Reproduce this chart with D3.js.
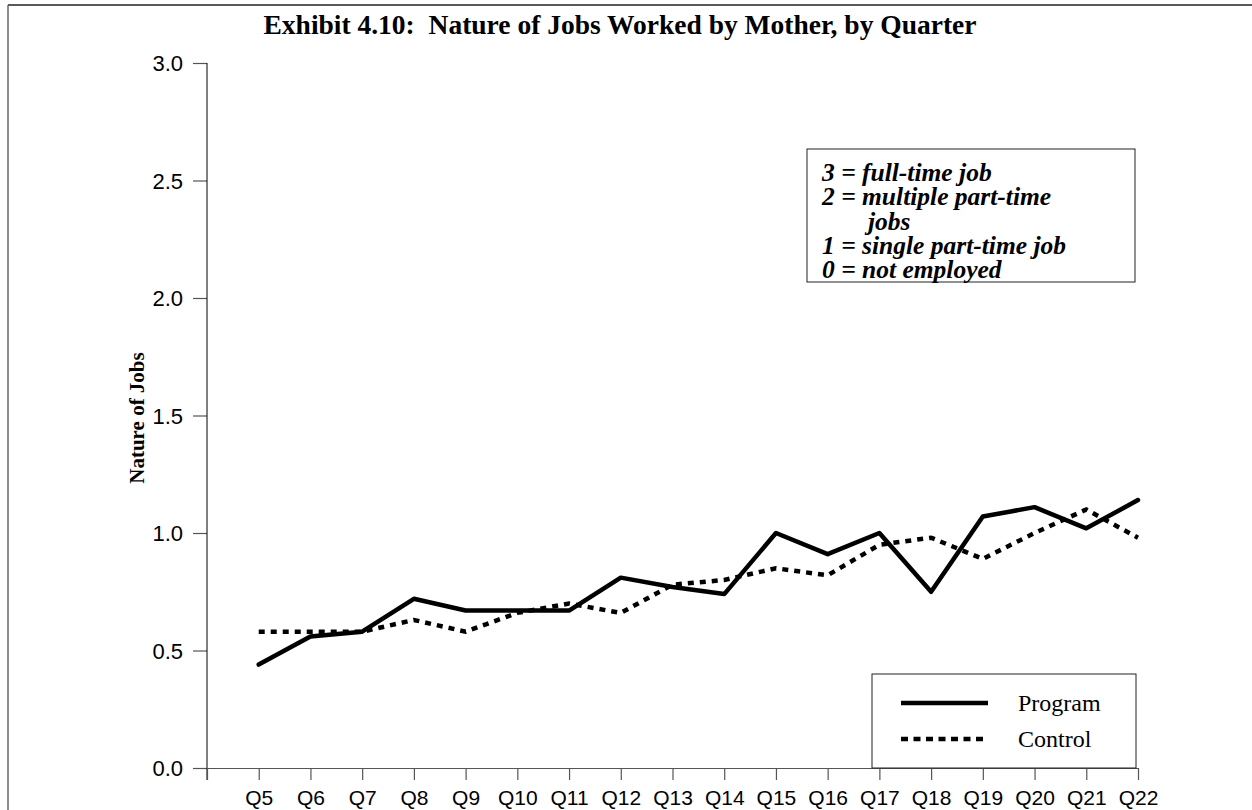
<!DOCTYPE html>
<html>
<head>
<meta charset="utf-8">
<script src="https://cdn.jsdelivr.net/npm/d3@7"></script>
<style>
  body { margin: 0; background: #fff; }
  svg { display: block; }
</style>
</head>
<body>
<svg id="chart" width="1252" height="810"></svg>
<script>
var quarters = ['Q5','Q6','Q7','Q8','Q9','Q10','Q11','Q12','Q13','Q14','Q15','Q16','Q17','Q18','Q19','Q20','Q21','Q22'];
var program = [0.44, 0.56, 0.58, 0.72, 0.67, 0.67, 0.67, 0.81, 0.77, 0.74, 1.00, 0.91, 1.00, 0.75, 1.07, 1.11, 1.02, 1.14];
var control = [0.58, 0.58, 0.58, 0.63, 0.58, 0.66, 0.70, 0.66, 0.78, 0.80, 0.85, 0.82, 0.95, 0.98, 0.89, 1.00, 1.10, 0.98];
var yTicks = [0, 0.5, 1.0, 1.5, 2.0, 2.5, 3.0];
var keyLines = ['3 = full-time job', '2 = multiple part-time', 'jobs', '1 = single part-time job', '0 = not employed'];

var svg = d3.select('#chart');
var serif = '"Liberation Serif", "Times New Roman", serif';
var sans = '"Liberation Sans", Arial, sans-serif';

// page frame (top and left rules)
svg.append('line').attr('x1', 8).attr('y1', 5).attr('x2', 1252).attr('y2', 5)
  .attr('stroke', '#222').attr('stroke-width', 1.5);
svg.append('line').attr('x1', 8).attr('y1', 5).attr('x2', 8).attr('y2', 810)
  .attr('stroke', '#666').attr('stroke-width', 1.5);

svg.append('text').text('Exhibit 4.10:  Nature of Jobs Worked by Mother, by Quarter')
  .attr('x', 620).attr('y', 34)
  .attr('font-family', serif).attr('font-weight', 'bold').attr('font-size', '27.5px')
  .attr('text-anchor', 'middle').style('white-space', 'pre');

var x = d3.scaleLinear().domain([0, quarters.length]).range([207, 1138]);
var y = d3.scaleLinear().domain([0, 3]).range([768, 63]);

// y axis
var yAxis = svg.append('g').attr('transform', 'translate(207,0)')
  .call(d3.axisLeft(y).tickValues(yTicks).tickFormat(d3.format('.1f')).tickSize(14).tickSizeOuter(0));
yAxis.select('.domain').remove();
yAxis.append('line').attr('x1', 0).attr('x2', 0).attr('y1', y(3)).attr('y2', 780)
  .attr('stroke', '#000').attr('stroke-width', 1);
yAxis.selectAll('.tick line').attr('stroke', '#555').attr('stroke-width', 1.2);
yAxis.selectAll('.tick text').attr('x', -24).attr('dy', '0.35em')
  .attr('font-family', sans).attr('font-size', '22px').attr('fill', '#000');

// x axis
var xAxis = svg.append('g').attr('transform', 'translate(0,768)')
  .call(d3.axisBottom(x).tickValues(d3.range(0, quarters.length + 1))
    .tickFormat(function(i) { return i > 0 ? quarters[i - 1] : ''; })
    .tickSize(12).tickSizeOuter(0));
xAxis.select('.domain').attr('stroke', '#555').attr('stroke-width', 1.2);
xAxis.selectAll('.tick line').attr('stroke', '#555').attr('stroke-width', 1.2);
xAxis.selectAll('.tick text').attr('y', 22).attr('dy', '0.71em')
  .attr('font-family', sans).attr('font-size', '21px').attr('fill', '#000');

svg.append('text').text('Nature of Jobs')
  .attr('transform', 'translate(144,418) rotate(-90)')
  .attr('font-family', serif).attr('font-weight', 'bold').attr('font-size', '21px')
  .attr('text-anchor', 'middle');

var line = d3.line().x(function(d, i) { return x(i + 1); }).y(function(d) { return y(d); });

svg.append('path').datum(control).attr('d', line)
  .attr('fill', 'none').attr('stroke', '#000').attr('stroke-width', 4.5)
  .attr('stroke-dasharray', '6,6');
svg.append('path').datum(program).attr('d', line)
  .attr('fill', 'none').attr('stroke', '#000').attr('stroke-width', 4.5)
  .attr('stroke-linejoin', 'round').attr('stroke-linecap', 'round');

// scale key box
svg.append('rect').attr('x', 807).attr('y', 149).attr('width', 328).attr('height', 133)
  .attr('fill', 'none').attr('stroke', '#222').attr('stroke-width', 1);
svg.selectAll('.key').data(keyLines).enter().append('text').attr('class', 'key')
  .text(function(d) { return d; })
  .attr('x', function(d) { return d === 'jobs' ? 868 : 822; })
  .attr('y', function(d, i) { return 181 + i * 24.3; })
  .attr('font-family', serif).attr('font-weight', 'bold').attr('font-style', 'italic')
  .attr('font-size', '25.5px');

// series legend
svg.append('rect').attr('x', 872).attr('y', 674).attr('width', 264).attr('height', 94)
  .attr('fill', '#fff').attr('stroke', '#222').attr('stroke-width', 1);
var legendItems = [['Program', null, 703], ['Control', '7,5.5', 739]];
legendItems.forEach(function(it) {
  svg.append('line').attr('x1', 901).attr('x2', 988).attr('y1', it[2]).attr('y2', it[2])
    .attr('stroke', '#000').attr('stroke-width', 4.5)
    .attr('stroke-dasharray', it[1]);
  svg.append('text').text(it[0]).attr('x', 1018).attr('y', it[2] + 8)
    .attr('font-family', serif).attr('font-size', '24px');
});
</script>
</body>
</html>
